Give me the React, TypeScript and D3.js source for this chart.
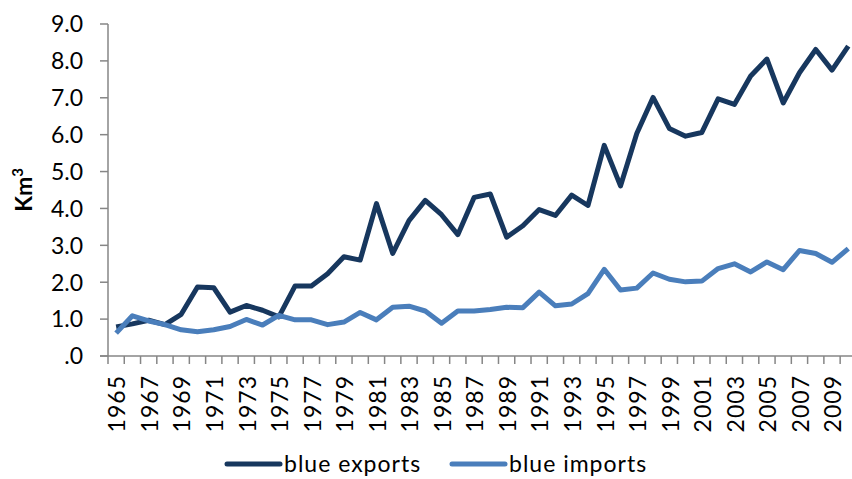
import React, { useEffect, useRef } from 'react';
import * as d3 from 'd3';

const WIDTH = 852;
const HEIGHT = 479;

const years = d3.range(1965, 2011).map(String);

// Km3 per year
const exportsKm3 = [
  0.79, 0.87, 0.97, 0.85, 1.13, 1.87, 1.85, 1.19, 1.37, 1.24,
  1.06, 1.9, 1.9, 2.23, 2.69, 2.6, 4.13, 2.78, 3.67, 4.22,
  3.83, 3.29, 4.3, 4.39, 3.22, 3.53, 3.97, 3.81, 4.36, 4.08,
  5.71, 4.61, 6.03, 7.01, 6.17, 5.96, 6.06, 6.97, 6.82, 7.59,
  8.05, 6.86, 7.68, 8.31, 7.75, 8.4,
];
const importsKm3 = [
  0.62, 1.09, 0.95, 0.85, 0.71, 0.66, 0.71, 0.8, 0.99, 0.84,
  1.1, 0.98, 0.98, 0.85, 0.92, 1.18, 0.98, 1.32, 1.35, 1.22,
  0.89, 1.22, 1.22, 1.26, 1.32, 1.31, 1.73, 1.36, 1.41, 1.69,
  2.35, 1.79, 1.84, 2.25, 2.08, 2.01, 2.03, 2.37, 2.5, 2.28,
  2.55, 2.34, 2.86, 2.78, 2.54, 2.91,
];
const seriesNames = ['blue exports', 'blue imports'];
const seriesColors = ['#17375E', '#4A7EBB'];
const yTicks = d3.range(0, 10);

const FONT = 'Lato, "Open Sans", sans-serif';

const App: React.FC = () => {
  const ref = useRef<SVGSVGElement>(null);

  useEffect(() => {
    const svg = d3.select(ref.current);
    svg.selectAll('*').remove();

    const left = 108;
    const x = d3
      .scaleBand<string>()
      .domain(years)
      .range([left, left + years.length * 16.27]);
    const y = d3.scaleLinear().domain([0, 9]).range([356, 24]);
    const cx = (yr: string) => (x(yr) as number) + x.bandwidth() / 2;

    const axisColor = '#868686';

    // y axis
    svg
      .append('line')
      .attr('x1', left)
      .attr('x2', left)
      .attr('y1', y(9))
      .attr('y2', y(0))
      .attr('stroke', axisColor)
      .attr('stroke-width', 1.5);
    const yt = svg.append('g');
    yTicks.forEach((t) => {
      yt.append('line')
        .attr('x1', left - 8)
        .attr('x2', left)
        .attr('y1', y(t))
        .attr('y2', y(t))
        .attr('stroke', axisColor)
        .attr('stroke-width', 1.5);
      yt.append('text')
        .attr('x', 83)
        .attr('y', y(t))
        .attr('dy', '0.36em')
        .attr('text-anchor', 'end')
        .attr('font-family', FONT)
        .attr('font-size', 23)
        .attr('fill', '#000')
        .text(t === 0 ? '.0' : t.toFixed(1));
    });

    // y title
    const title = svg
      .append('text')
      .attr('transform', `translate(32,${(y(0) + y(9)) / 2}) rotate(-90)`)
      .attr('text-anchor', 'middle')
      .attr('font-family', FONT)
      .attr('font-size', 23)
      .attr('font-weight', 'bold');
    title.append('tspan').text('Km');
    title.append('tspan').attr('font-size', 15).attr('dy', -9).text('3');

    // x axis
    svg
      .append('line')
      .attr('x1', left - 8)
      .attr('x2', WIDTH)
      .attr('y1', y(0))
      .attr('y2', y(0))
      .attr('stroke', axisColor)
      .attr('stroke-width', 1.5);
    years.forEach((yr) => {
      svg
        .append('line')
        .attr('x1', x(yr) as number)
        .attr('x2', x(yr) as number)
        .attr('y1', y(0))
        .attr('y2', y(0) + 8)
        .attr('stroke', axisColor)
        .attr('stroke-width', 1.5);
    });
    years
      .filter((_, i) => i % 2 === 0)
      .forEach((yr) => {
        svg
          .append('text')
          .attr('transform', `translate(${cx(yr) + 1},375) rotate(-90)`)
          .attr('dy', '0.36em')
          .attr('text-anchor', 'end')
          .attr('font-family', FONT)
          .attr('font-size', 23)
          .attr('letter-spacing', 1)
          .attr('fill', '#000')
          .text(yr);
      });

    // lines
    const line = d3
      .line<number>()
      .x((_, i) => cx(years[i]))
      .y((d) => y(d));
    [exportsKm3, importsKm3].forEach((data, i) => {
      svg
        .append('path')
        .datum(data)
        .attr('fill', 'none')
        .attr('stroke', seriesColors[i])
        .attr('stroke-width', 5)
        .attr('stroke-linejoin', 'round')
        .attr('d', line);
    });

    // legend
    const legendX = [227, 452];
    const legendY = 464;
    seriesNames.forEach((name, i) => {
      svg
        .append('line')
        .attr('x1', legendX[i])
        .attr('x2', legendX[i] + 53)
        .attr('y1', legendY)
        .attr('y2', legendY)
        .attr('stroke', seriesColors[i])
        .attr('stroke-width', 5)
        .attr('stroke-linecap', 'round');
      svg
        .append('text')
        .attr('x', legendX[i] + 57)
        .attr('y', legendY)
        .attr('dy', '0.34em')
        .attr('font-family', FONT)
        .attr('font-size', 23)
        .attr('letter-spacing', 1)
        .attr('fill', '#000')
        .text(name);
    });
  }, []);

  return (
    <svg
      ref={ref}
      width={WIDTH}
      height={HEIGHT}
      style={{ position: 'absolute', left: 0, top: 0, background: '#fff' }}
    />
  );
};

export default App;
